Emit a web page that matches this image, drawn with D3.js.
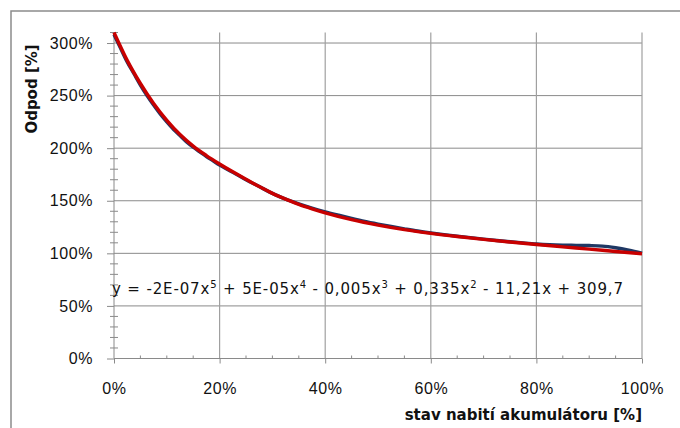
<!DOCTYPE html>
<html>
<head>
<meta charset="utf-8">
<script src="https://cdn.jsdelivr.net/npm/d3@7"></script>
<style>
  body { margin: 0; background: #fff; }
  svg { display: block; font-family: "DejaVu Sans", sans-serif; }
</style>
</head>
<body>
<div id="d3-container"></div>
<script>
// measured curve (x = state of charge %, y = resistance %)
const measuredX = [0, 1.25, 2.5, 3.75, 5, 6.25, 7.5, 8.75, 10, 11.25, 12.5, 13.75, 15, 16.25, 17.5, 18.75,
  20, 21.25, 22.5, 23.75, 25, 27.5, 30, 32.5, 35, 37.5, 40, 42.5, 45, 47.5, 50, 52.5, 55, 57.5,
  60, 62.5, 65, 67.5, 70, 72.5, 75, 77.5, 80, 82.5, 85, 87.5, 90, 92.5, 95, 97.5, 100];
const measuredY = [308, 295, 282, 271, 260, 250, 241, 232.5, 225, 218, 212, 206, 201, 196.5, 192, 188,
  184, 180.5, 177, 173.5, 170, 163.5, 157, 151.5, 147, 143, 139.5, 136.3, 133.2, 130.3, 127.8, 125.5, 123.3, 121.2,
  119.4, 117.8, 116.3, 114.9, 113.5, 112.2, 111, 109.9, 108.9, 108.2, 107.8, 107.6, 107.4, 106.9, 105.3, 103, 100.2];

// polynomial trend line
const trendX = [0, 2.5, 5, 7.5, 10, 12.5, 15, 17.5, 20, 22.5, 25, 27.5, 30, 32.5, 35, 37.5, 40,
  45, 50, 55, 60, 65, 70, 75, 80, 85, 90, 95, 100];
const trendY = [310, 283.5, 261.5, 242.5, 226.5, 213, 202, 193, 185, 177.5, 170.5, 163.5, 157, 151.5, 146.5, 142.3, 138.5,
  132, 126.8, 122.5, 119, 116, 113.3, 110.8, 108.4, 106.2, 104, 101.8, 99.6];

// ticks
const xTicks = [0, 20, 40, 60, 80, 100];
const yTicks = [0, 50, 100, 150, 200, 250, 300];
const xMinor = d3.range(5, 100, 5).filter(d => d % 20 !== 0);
const yMinor = d3.range(10, 311, 10).filter(d => d % 50 !== 0);

const width = 680;
const height = 428;
const margin = { top: 32.5, bottom: 69.5, left: 114, right: 38 };

const svg = d3.select('#d3-container')
  .append('svg')
  .attr('width', width)
  .attr('height', height);

const x = d3.scaleLinear()
  .domain([0, 100])
  .range([margin.left, width - margin.right]);

const y = d3.scaleLinear()
  .domain([0, 310])
  .range([height - margin.bottom, margin.top]);

// chart frame (cropped at right/bottom)
svg.append("path")
  .attr("d", `M11,${height} L11,11 L${width},11`)
  .attr("fill", "none")
  .attr("stroke", "#8c8c8c")
  .attr("stroke-width", 1.5);

// gridlines
svg.append("g")
  .selectAll("line")
  .data(yTicks.filter(d => d > 0))
  .join("line")
    .attr("x1", x(0)).attr("x2", x(100))
    .attr("y1", d => y(d)).attr("y2", d => y(d))
    .attr("stroke", "#8a8a8a");

svg.append("g")
  .selectAll("line")
  .data(xTicks.filter(d => d > 0))
  .join("line")
    .attr("x1", d => x(d)).attr("x2", d => x(d))
    .attr("y1", y(0)).attr("y2", y(310))
    .attr("stroke", "#a0a0a0")
    .attr("stroke-width", 1.2);

// y axis
function yAxis(g) {
  g.attr("transform", `translate(${margin.left},0)`)
    .call(d3.axisLeft(y).tickValues(yTicks).tickSize(7).tickPadding(14).tickFormat(d => d + "%"))
    .call(g => g.select(".domain").attr("stroke", "#8a8a8a").attr("d", `M0,${y(310)}V${y(0)}`))
    .call(g => g.selectAll(".tick line").attr("stroke", "#8a8a8a"))
    .call(g => g.selectAll(".tick text")
      .attr("font-size", "16px").attr("letter-spacing", "0.6px").attr("fill", "#111"));
}

// x axis
function xAxis(g) {
  g.attr("transform", `translate(0,${y(0)})`)
    .call(d3.axisBottom(x).tickValues(xTicks).tickSize(5).tickPadding(19).tickFormat(d => d + "%"))
    .call(g => g.select(".domain").attr("stroke", "#8a8a8a").attr("d", `M${x(0)},0H${x(100)}`))
    .call(g => g.selectAll(".tick line").attr("stroke", "#8a8a8a"))
    .call(g => g.selectAll(".tick text")
      .attr("font-size", "16px").attr("letter-spacing", "0.6px").attr("fill", "#111"));
}

svg.append("g").call(yAxis);
svg.append("g").call(xAxis);

// minor ticks
svg.append("g")
  .selectAll("line")
  .data(yMinor)
  .join("line")
    .attr("x1", x(0) - 4).attr("x2", x(0) + 4)
    .attr("y1", d => y(d)).attr("y2", d => y(d))
    .attr("stroke", "#8a8a8a");

svg.append("g")
  .selectAll("line")
  .data(xMinor)
  .join("line")
    .attr("x1", d => x(d)).attr("x2", d => x(d))
    .attr("y1", y(0) - 3).attr("y2", y(0))
    .attr("stroke", "#8a8a8a");

// series
const line = d3.line()
  .x(d => x(d[0]))
  .y(d => y(d[1]))
  .curve(d3.curveMonotoneX);

svg.append("path")
  .datum(d3.zip(measuredX, measuredY))
  .attr("fill", "none")
  .attr("stroke", "#1f3864")
  .attr("stroke-width", 3.4)
  .attr("d", line);

svg.append("path")
  .datum(d3.zip(trendX, trendY))
  .attr("fill", "none")
  .attr("stroke", "#c80000")
  .attr("stroke-width", 3.4)
  .attr("d", line);

// equation of the trend line
const eq = svg.append("text")
  .attr("x", 112)
  .attr("y", 294)
  .attr("font-size", "15px")
  .attr("fill", "#111")
  .attr("textLength", 511)
  .attr("lengthAdjust", "spacing");

const eqParts = [
  ["y = -2E-07x", "5"], [" + 5E-05x", "4"], [" - 0,005x", "3"], [" + 0,335x", "2"], [" - 11,21x + 309,7", null]
];
let shift = 0;
eqParts.forEach(([t, s]) => {
  eq.append("tspan").attr("dy", -shift).text(t);
  shift = 0;
  if (s) {
    eq.append("tspan").attr("dy", -6).attr("font-size", "10px").text(s);
    shift = -6;
  }
});

// axis titles
svg.append("text")
  .attr("transform", `translate(37,89) rotate(-90)`)
  .attr("text-anchor", "middle")
  .attr("font-size", "15px")
  .attr("font-weight", "bold")
  .attr("fill", "#111")
  .text("Odpod [%]");

svg.append("text")
  .attr("x", 642)
  .attr("y", 420)
  .attr("text-anchor", "end")
  .attr("font-size", "15px")
  .attr("font-weight", "bold")
  .attr("fill", "#111")
  .text("stav nabití akumulátoru [%]");
</script>
</body>
</html>
